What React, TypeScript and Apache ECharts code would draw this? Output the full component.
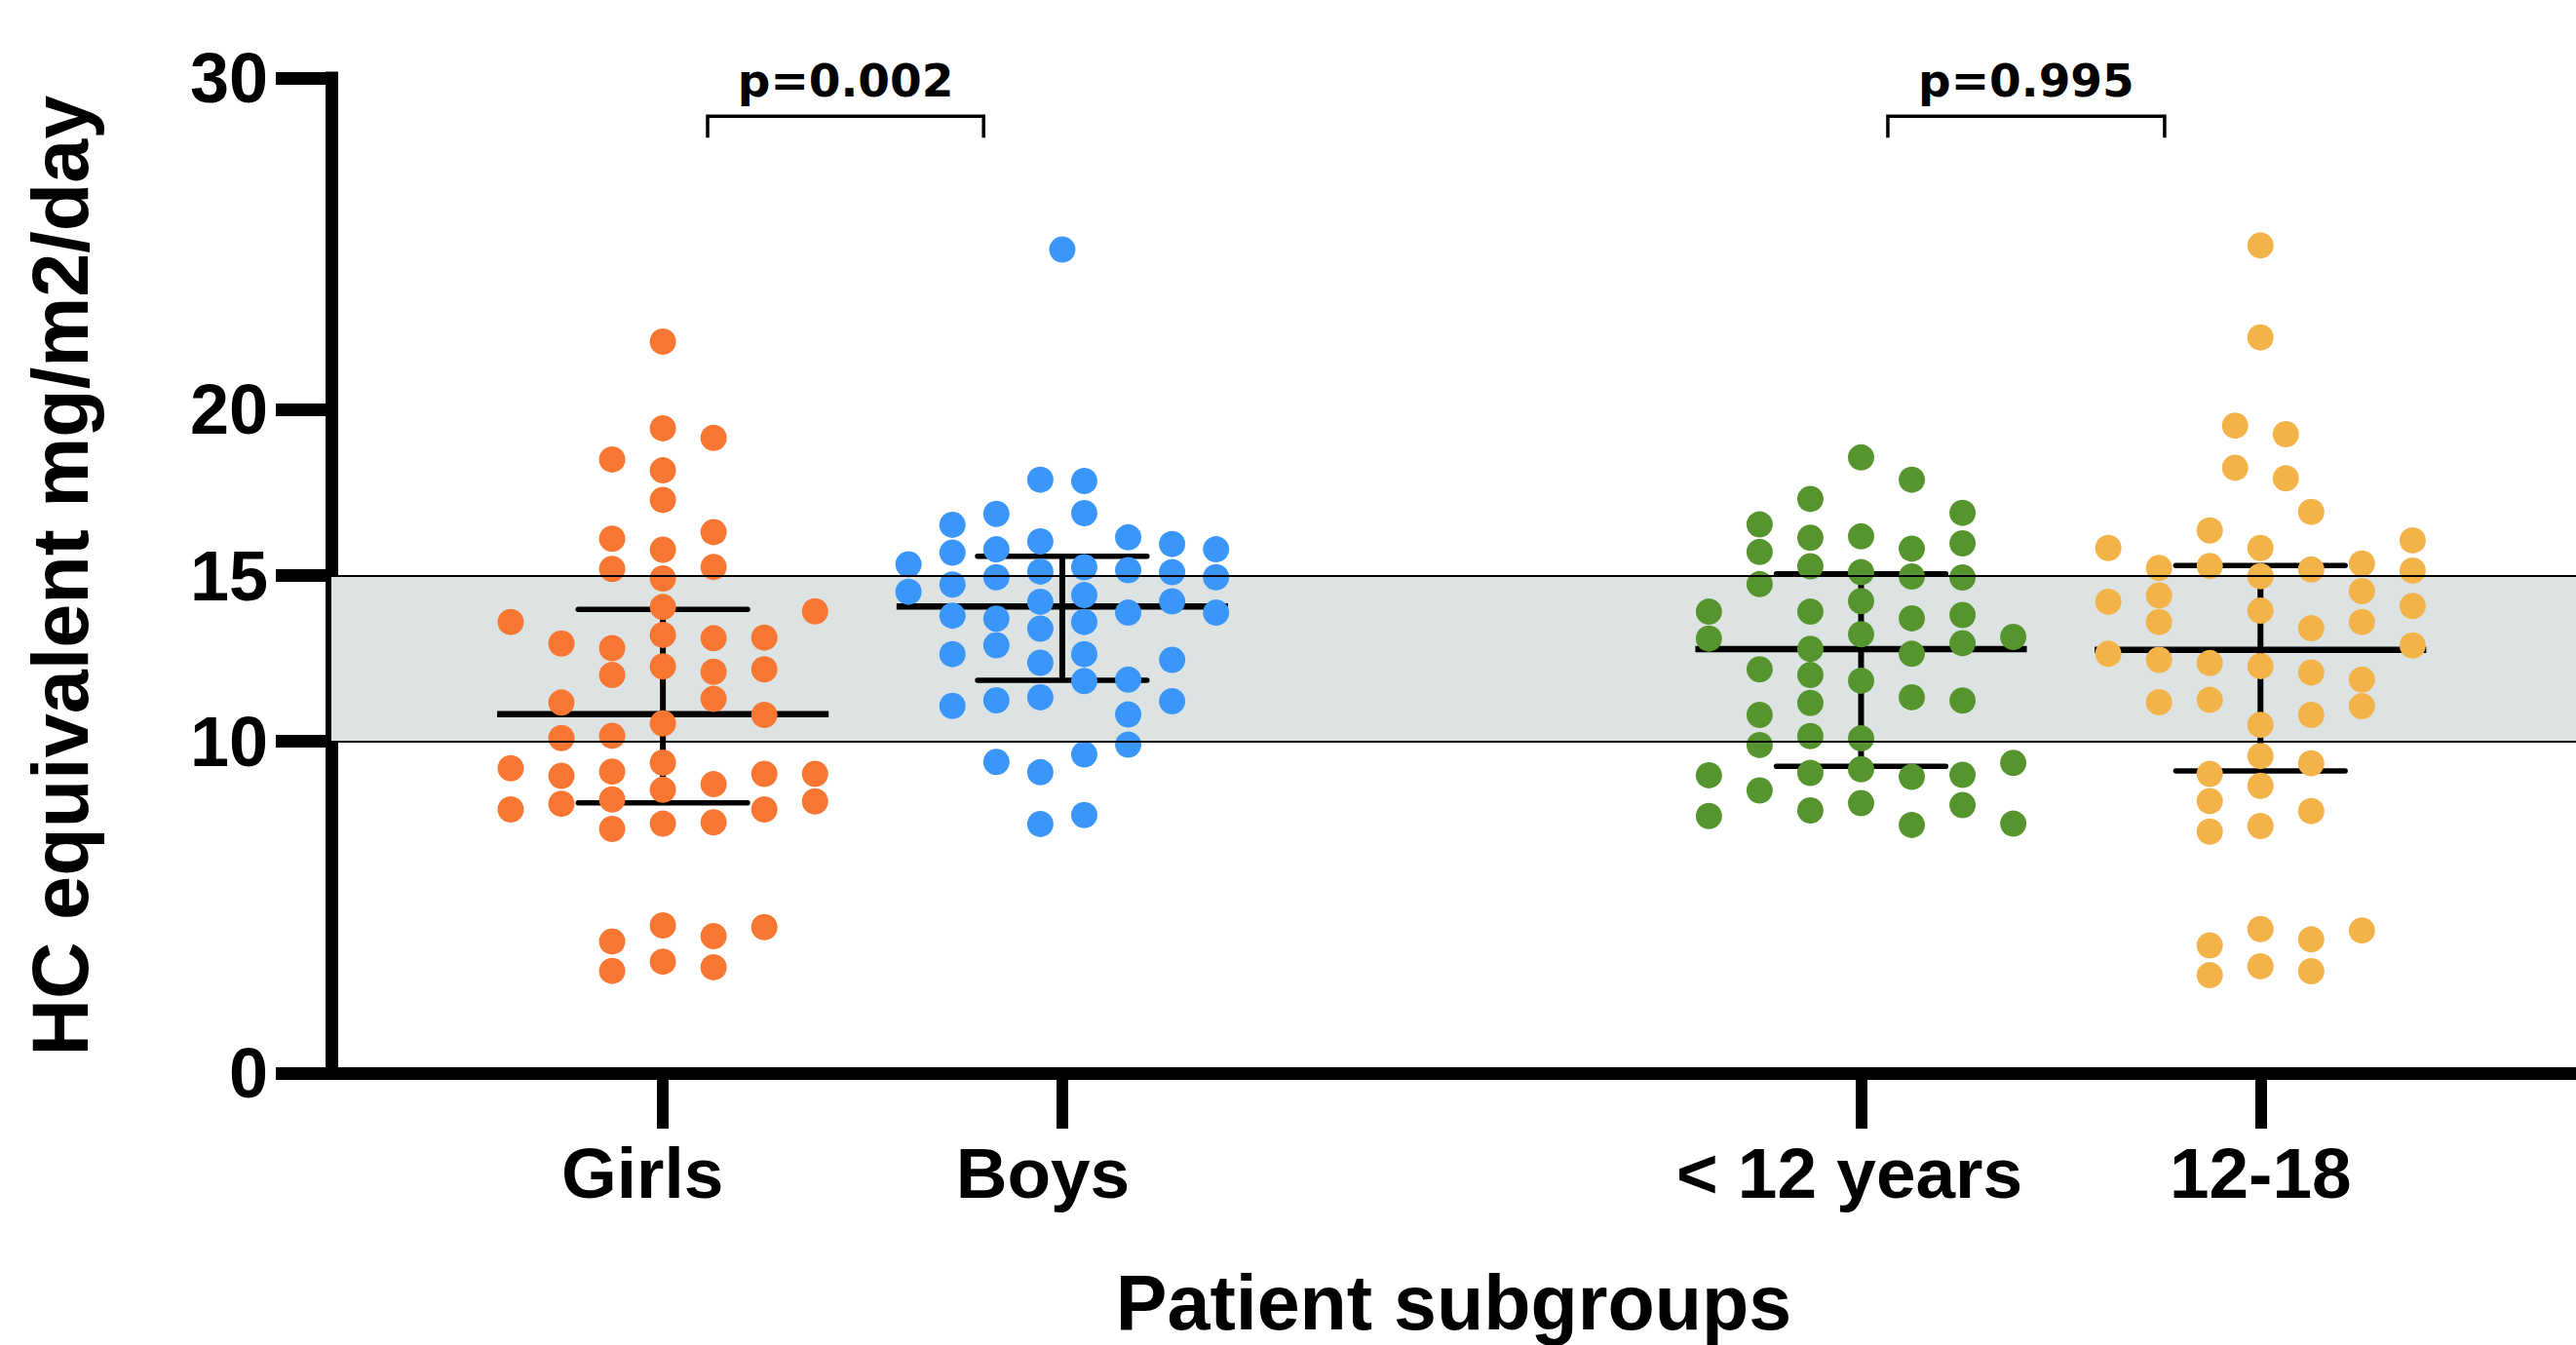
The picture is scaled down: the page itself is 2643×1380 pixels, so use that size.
import React, { useEffect, useRef } from "react";
import * as echarts from "echarts";

// ---------- data ----------
const categories = ["Girls", "Boys", "< 12 years", "12-18"];
const categoryX = [1, 2, 4, 5];
const yTicks = [0, 10, 15, 20, 30];
const refRange = [10, 15];

// dot columns (values per swarm column)
const girlsOffsets = [-3, -2, -1, 0, 1, 2, 3];
const girlsColumns = [
  [13.6, 9.19, 7.95],
  [12.95, 11.17, 10.1, 8.96, 8.12],
  [18.5, 16.11, 15.2, 12.81, 12.0, 10.17, 9.09, 8.25, 7.36, 3.97, 3.08],
  [22.05, 19.44, 18.17, 17.28, 15.78, 14.91, 14.05, 13.21, 12.26, 10.54, 9.36, 8.54, 7.52, 4.45, 3.36],
  [19.15, 16.31, 15.26, 13.11, 12.1, 11.28, 8.71, 7.56, 4.13, 3.19],
  [13.13, 12.17, 10.8, 9.02, 7.95, 4.4],
  [13.92, 9.02, 8.19],
];

const boysOffsets = [-3.5, -2.5, -1.5, -0.5, 0, 0.5, 1.5, 2.5, 3.5];
const boysColumns = [
  [15.34, 14.51],
  [16.53, 15.69, 14.73, 13.79, 12.63, 11.07],
  [16.86, 15.79, 14.95, 13.7, 12.9, 11.24, 9.38],
  [17.89, 16.03, 15.12, 14.21, 13.4, 12.37, 11.33, 9.07, 7.51],
  [24.83],
  [17.85, 16.88, 15.25, 14.41, 13.6, 12.63, 11.82, 9.61, 7.78],
  [16.15, 15.16, 13.88, 11.86, 10.81, 9.9],
  [15.95, 15.1, 14.22, 12.46, 11.21],
  [15.79, 14.95, 13.88],
];

const under12Offsets = [-3, -2, -1, 0, 1, 2, 3];
const under12Columns = [
  [13.91, 13.1, 8.98, 7.75],
  [16.54, 15.71, 14.74, 12.17, 10.8, 9.89, 8.52],
  [17.31, 16.14, 15.28, 13.91, 12.79, 12.0, 11.16, 10.16, 9.05, 7.92],
  [18.56, 16.18, 15.1, 14.23, 13.23, 11.83, 10.09, 9.16, 8.14],
  [17.89, 15.81, 14.97, 13.71, 12.64, 11.33, 8.93, 7.48],
  [16.89, 15.97, 14.94, 13.81, 12.96, 11.23, 8.99, 8.08],
  [13.15, 9.35, 7.52],
];

const teenOffsets = [-3, -2, -1, -0.5, 0, 0.5, 1, 2, 3];
const teenColumns = [
  [15.83, 14.21, 12.64],
  [15.23, 14.4, 13.6, 12.46, 11.18],
  [16.36, 15.29, 12.36, 11.25, 9.02, 8.2, 7.28, 3.85, 2.95],
  [19.52, 18.25],
  [24.95, 22.18, 15.83, 14.98, 13.94, 12.27, 10.5, 9.56, 8.66, 7.45, 4.34, 3.22],
  [19.26, 17.93],
  [16.92, 15.18, 13.41, 12.08, 10.8, 9.34, 7.9, 4.03, 3.07],
  [15.36, 14.53, 13.6, 11.86, 11.06, 4.3],
  [16.06, 15.15, 14.08, 12.89],
];

// median and interquartile range per group
const q1Values = [8.15, 11.84, 9.25, 9.11];
const medianValues = [10.82, 14.07, 12.78, 12.76];
const q3Values = [13.98, 15.58, 15.05, 15.3];

// significance brackets
const pLabels = ["p=0.002", "p=0.995"];
const pFrom = [1.112, 4.067];
const pTo = [1.803, 4.76];
const pBracketY = 28.85;
const pLegY = 28.2;
const pTextY = 29.92;

// ---------- styling ----------
const colors = ["#F77631", "#3A97F9", "#56952E", "#F4B348"];
const colSpacing = [0.127, 0.11, 0.127, 0.127];
const FONT = "'Liberation Sans', Arial, Helvetica, sans-serif";

function buildDots(gi: number, offsets: number[], cols: number[][]) {
  const out: number[][] = [];
  cols.forEach((col, ci) => {
    col.forEach((v) => {
      out.push([categoryX[gi] + offsets[ci] * colSpacing[gi], v]);
    });
  });
  return out;
}

export default function App() {
  const ref = useRef<HTMLDivElement>(null);

  useEffect(() => {
    document.body.style.margin = "0";
    if (!ref.current) return;
    const chart = echarts.init(ref.current, undefined, { renderer: "svg" });

    const groups = [
      buildDots(0, girlsOffsets, girlsColumns),
      buildDots(1, boysOffsets, boysColumns),
      buildDots(2, under12Offsets, under12Columns),
      buildDots(3, teenOffsets, teenColumns),
    ];

    const statsData = categoryX.map((x, i) => [x, q1Values[i], medianValues[i], q3Values[i]]);
    const bracketData = pLabels.map((_, i) => [pFrom[i], pTo[i], pBracketY, pLegY, i]);

    const labelPad = [42, 40, 24, 0];
    const rich: any = {};
    categories.forEach((_, i) => {
      rich["l" + i] = {
        fontSize: 73,
        fontWeight: "bold",
        fontFamily: FONT,
        color: "#000",
        padding: [0, labelPad[i], 0, 0],
      };
    });

    const option: any = {
      animation: false,
      backgroundColor: "#fff",
      grid: {
        left: 340,
        top: 80,
        right: 0,
        bottom: 279,
        containLabel: false,
        outerBoundsMode: "none",
      },
      xAxis: {
        type: "value",
        min: 0.17,
        max: 5.79,
        splitLine: { show: false },
        axisLine: { show: true, onZero: false, lineStyle: { color: "#000", width: 13, cap: "square" } },
        axisTick: {
          show: true,
          customValues: categoryX,
          length: 57,
          lineStyle: { color: "#000", width: 12 },
        },
        axisLabel: {
          show: true,
          customValues: categoryX,
          margin: 66,
          formatter: (v: number) => {
            const i = categoryX.indexOf(Math.round(v));
            return i >= 0 ? `{l${i}|${categories[i]}}` : "";
          },
          rich,
        },
        name: "Patient subgroups",
        nameLocation: "middle",
        nameGap: 196,
        nameMoveOverlap: false,
        nameTextStyle: { fontSize: 79, fontWeight: "bold", fontFamily: FONT, color: "#000" },
      },
      yAxis: {
        type: "value",
        min: 0,
        max: 30,
        splitLine: { show: false },
        axisLine: { show: true, onZero: false, lineStyle: { color: "#000", width: 13, cap: "square" } },
        axisTick: {
          show: true,
          customValues: yTicks,
          length: 57,
          lineStyle: { color: "#000", width: 13 },
        },
        axisLabel: {
          show: true,
          customValues: yTicks,
          margin: 65,
          fontSize: 72,
          fontWeight: "bold",
          fontFamily: FONT,
          color: "#000",
        },
        name: "HC equivalent mg/m2/day",
        nameLocation: "middle",
        nameGap: 238,
        nameRotate: 90,
        nameMoveOverlap: false,
        nameTextStyle: { fontSize: 81, fontWeight: "bold", fontFamily: FONT, color: "#000" },
      },
      series: [
        {
          type: "scatter",
          name: "reference",
          data: [],
          z: 1,
          silent: true,
          markArea: {
            silent: true,
            itemStyle: { color: "#DCE3E2" },
            data: [[{ yAxis: refRange[0] }, { yAxis: refRange[1] }]],
          },
          markLine: {
            silent: true,
            symbol: ["none", "none"],
            label: { show: false },
            lineStyle: { color: "#000", width: 2, type: "solid" },
            data: refRange.map((v) => ({ yAxis: v })),
          },
        },
        {
          type: "custom",
          name: "stats",
          z: 2,
          silent: true,
          clip: false,
          data: statsData,
          encode: { x: 0, y: [1, 2, 3] },
          renderItem: (params: any, api: any) => {
            const x = api.value(0);
            const q1 = api.value(1);
            const med = api.value(2);
            const q3 = api.value(3);
            const mw = 0.415;
            const qw = 0.212;
            const a = api.coord([x - mw, med]);
            const b = api.coord([x + mw, med]);
            const c = api.coord([x - qw, q1]);
            const d = api.coord([x + qw, q1]);
            const e = api.coord([x - qw, q3]);
            const f = api.coord([x + qw, q3]);
            const g = api.coord([x, q1]);
            const h = api.coord([x, q3]);
            return {
              type: "group",
              children: [
                { type: "line", shape: { x1: g[0], y1: g[1], x2: h[0], y2: h[1] }, style: { stroke: "#000", lineWidth: 6 } },
                { type: "line", shape: { x1: a[0], y1: a[1], x2: b[0], y2: b[1] }, style: { stroke: "#000", lineWidth: 6.5, lineCap: "butt" } },
                { type: "line", shape: { x1: c[0], y1: c[1], x2: d[0], y2: d[1] }, style: { stroke: "#000", lineWidth: 5.5, lineCap: "round" } },
                { type: "line", shape: { x1: e[0], y1: e[1], x2: f[0], y2: f[1] }, style: { stroke: "#000", lineWidth: 5.5, lineCap: "round" } },
              ],
            };
          },
        },
        ...groups.map((d, i) => ({
          type: "scatter",
          name: categories[i],
          data: d,
          z: 3,
          symbol: "circle",
          symbolSize: 27,
          itemStyle: { color: colors[i], opacity: 1 },
          silent: true,
        })),
        {
          type: "custom",
          name: "brackets",
          z: 4,
          silent: true,
          clip: false,
          data: bracketData,
          encode: { x: [0, 1], y: [2, 3] },
          renderItem: (params: any, api: any) => {
            const x1 = api.value(0);
            const x2 = api.value(1);
            const yb = api.value(2);
            const yl = api.value(3);
            const idx = api.value(4);
            const p1 = api.coord([x1, yl]);
            const p2 = api.coord([x1, yb]);
            const p3 = api.coord([x2, yb]);
            const p4 = api.coord([x2, yl]);
            const t = api.coord([(x1 + x2) / 2, pTextY]);
            return {
              type: "group",
              children: [
                {
                  type: "polyline",
                  shape: { points: [p1, p2, p3, p4] },
                  style: { stroke: "#000", lineWidth: 3.5, fill: "none" },
                },
                {
                  type: "text",
                  x: t[0],
                  y: t[1],
                  style: {
                    text: pLabels[idx],
                    fontSize: 47,
                    fontWeight: "bold",
                    fontFamily: "'DejaVu Sans', Verdana, sans-serif",
                    fill: "#000",
                    align: "center",
                    verticalAlign: "middle",
                  },
                },
              ],
            };
          },
        },
      ],
    };

    chart.setOption(option);
    return () => {
      chart.dispose();
    };
  }, []);

  return <div ref={ref} style={{ width: 2643, height: 1380, background: "#fff" }} />;
}
